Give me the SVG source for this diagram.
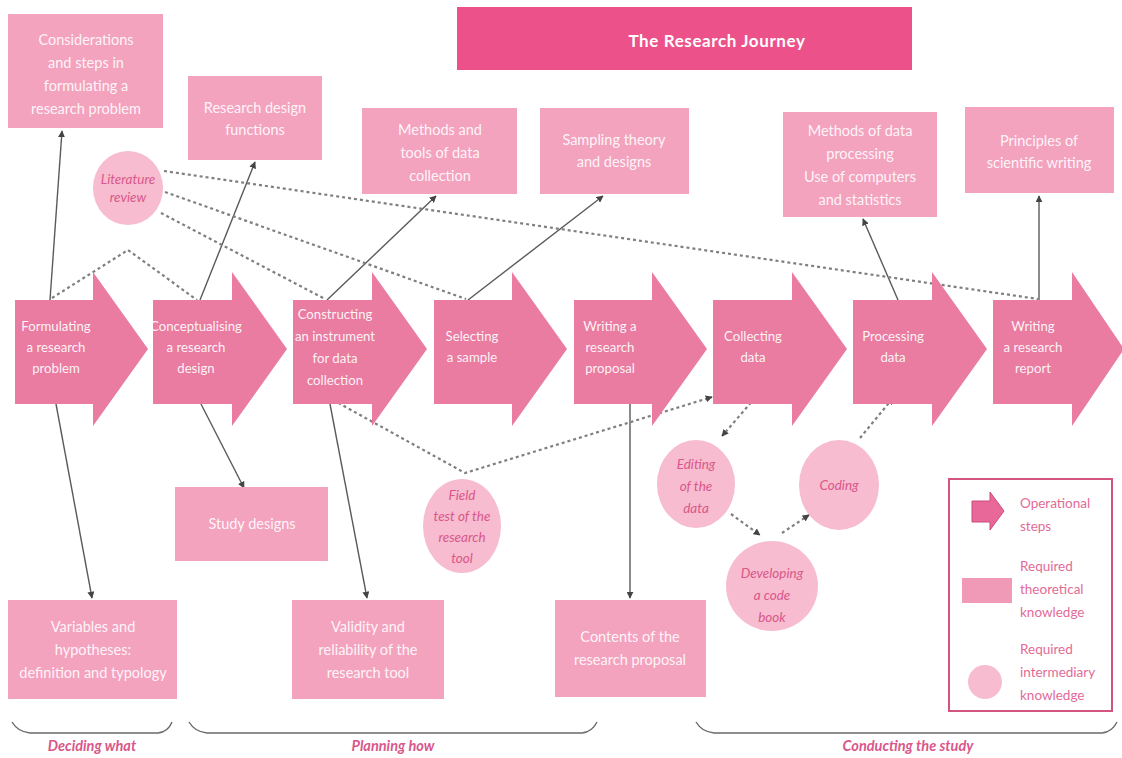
<svg xmlns="http://www.w3.org/2000/svg" width="1122" height="758" viewBox="0 0 1122 758">
<style>
.box{fill:#f4a3bf}
.arr{fill:#ea7ca2}
.circ{fill:#f7bccf}
.bt{font-family:Lato,"Open Sans",sans-serif;font-size:14.5px;fill:#ffffff;fill-opacity:0.9;text-anchor:middle}
.at{font-family:Lato,"Open Sans",sans-serif;font-size:13.2px;fill:#ffffff;fill-opacity:0.92;text-anchor:middle}
.ct{font-family:Lato,"Open Sans",sans-serif;font-size:13.5px;font-style:italic;fill:#d9578a;text-anchor:middle}
.lt{font-family:Lato,"Open Sans",sans-serif;font-size:13.5px;fill:#e26b98}
.ph{font-family:Lato,"Open Sans",sans-serif;font-size:14.5px;font-style:italic;font-weight:bold;fill:#d9578a;text-anchor:middle}
.solid{fill:none;stroke:#5a5a5a;stroke-width:1.4}
.dash{fill:none;stroke:#7f7f7f;stroke-width:2.2;stroke-dasharray:3 3}
.brace{fill:none;stroke:#6a6a6a;stroke-width:1.4}
</style>
<defs>
<marker id="ah" viewBox="0 0 10 10" refX="9" refY="5" markerWidth="7" markerHeight="7" orient="auto" markerUnits="userSpaceOnUse">
<path d="M0,0 L10,5 L0,10 z" fill="#444"/>
</marker>
</defs>

<rect width="1122" height="758" fill="#ffffff"/>

<g id="title">
<rect x="457" y="7" width="455" height="63" fill="#ec5189"/>
<text x="717" y="47" font-family="Lato,'Open Sans',sans-serif" font-size="17" font-weight="bold" fill="#ffffff" text-anchor="middle" letter-spacing="0.6">The Research Journey</text>
</g>

<g id="connectors">
<line class="solid" x1="50" y1="300" x2="62" y2="131" marker-end="url(#ah)"/>
<line class="solid" x1="56" y1="404" x2="92" y2="598" marker-end="url(#ah)"/>
<line class="solid" x1="200" y1="300" x2="255" y2="162" marker-end="url(#ah)"/>
<line class="solid" x1="201" y1="404" x2="244" y2="488" marker-end="url(#ah)"/>
<line class="solid" x1="327" y1="300" x2="436" y2="196" marker-end="url(#ah)"/>
<line class="solid" x1="330" y1="404" x2="367" y2="598" marker-end="url(#ah)"/>
<line class="solid" x1="468" y1="300" x2="603" y2="196" marker-end="url(#ah)"/>
<line class="solid" x1="630" y1="404" x2="630" y2="598" marker-end="url(#ah)"/>
<line class="solid" x1="898" y1="300" x2="863" y2="219" marker-end="url(#ah)"/>
<line class="solid" x1="1039" y1="300" x2="1039" y2="196" marker-end="url(#ah)"/>
<line class="dash" x1="164" y1="171" x2="1038" y2="299"/>
<line class="dash" x1="165" y1="192" x2="466" y2="299"/>
<line class="dash" x1="161" y1="213" x2="325" y2="299"/>
<polyline class="dash" points="52,298 128,250 197,300"/>
<polyline class="dash" points="333,400 465,473 712,397" marker-end="url(#ah)"/>
<line class="dash" x1="755" y1="398" x2="722" y2="436" marker-end="url(#ah)"/>
<line class="dash" x1="731" y1="514" x2="760" y2="535" marker-end="url(#ah)"/>
<line class="dash" x1="782" y1="533" x2="809" y2="515" marker-end="url(#ah)"/>
<line class="dash" x1="860" y1="438" x2="893" y2="398" marker-end="url(#ah)"/>
</g>

<g id="box-considerations">
<rect class="box" x="8" y="14" width="155" height="114"/>
<text class="bt" x="86" y="45">Considerations</text>
<text class="bt" x="86" y="68">and steps in</text>
<text class="bt" x="86" y="91">formulating a</text>
<text class="bt" x="86" y="114">research problem</text>
</g>
<g id="box-design-functions">
<rect class="box" x="188" y="76" width="134" height="84"/>
<text class="bt" x="255" y="113">Research design</text>
<text class="bt" x="255" y="135">functions</text>
</g>
<g id="box-methods-tools">
<rect class="box" x="362" y="108" width="155" height="86"/>
<text class="bt" x="440" y="135">Methods and</text>
<text class="bt" x="440" y="158">tools of data</text>
<text class="bt" x="440" y="181">collection</text>
</g>
<g id="box-sampling">
<rect class="box" x="540" y="108" width="149" height="86"/>
<text class="bt" x="614" y="145">Sampling theory</text>
<text class="bt" x="614" y="167">and designs</text>
</g>
<g id="box-processing-methods">
<rect class="box" x="783" y="112" width="154" height="105"/>
<text class="bt" x="860" y="136">Methods of data</text>
<text class="bt" x="860" y="159">processing</text>
<text class="bt" x="860" y="182">Use of computers</text>
<text class="bt" x="860" y="205">and statistics</text>
</g>
<g id="box-writing-principles">
<rect class="box" x="965" y="107" width="149" height="86"/>
<text class="bt" x="1039" y="146">Principles of</text>
<text class="bt" x="1039" y="168">scientific writing</text>
</g>

<g id="lit-review">
<ellipse class="circ" cx="128" cy="188" rx="35" ry="37"/>
<text class="ct" x="128" y="184">Literature</text>
<text class="ct" x="128" y="202">review</text>
</g>

<g id="step-formulating">
<polygon class="arr" points="15,300 93,300 93,272 148,349 93,426 93,404 15,404"/>
<text class="at" x="56" y="331">Formulating</text>
<text class="at" x="56" y="352">a research</text>
<text class="at" x="56" y="373">problem</text>
</g>
<g id="step-conceptualising">
<polygon class="arr" points="153,300 232,300 232,272 287,349 232,426 232,404 153,404"/>
<text class="at" x="196" y="331">Conceptualising</text>
<text class="at" x="196" y="352">a research</text>
<text class="at" x="196" y="373">design</text>
</g>
<g id="step-constructing">
<polygon class="arr" points="293,300 372,300 372,272 427,349 372,426 372,404 293,404"/>
<text class="at" x="335" y="319">Constructing</text>
<text class="at" x="335" y="341">an instrument</text>
<text class="at" x="335" y="363">for data</text>
<text class="at" x="335" y="385">collection</text>
</g>
<g id="step-selecting">
<polygon class="arr" points="434,300 512,300 512,272 567,349 512,426 512,404 434,404"/>
<text class="at" x="472" y="341">Selecting</text>
<text class="at" x="472" y="362">a sample</text>
</g>
<g id="step-proposal">
<polygon class="arr" points="574,300 652,300 652,272 707,349 652,426 652,404 574,404"/>
<text class="at" x="610" y="331">Writing a</text>
<text class="at" x="610" y="352">research</text>
<text class="at" x="610" y="373">proposal</text>
</g>
<g id="step-collecting">
<polygon class="arr" points="713,300 792,300 792,272 847,349 792,426 792,404 713,404"/>
<text class="at" x="753" y="341">Collecting</text>
<text class="at" x="753" y="362">data</text>
</g>
<g id="step-processing">
<polygon class="arr" points="853,300 932,300 932,272 987,349 932,426 932,404 853,404"/>
<text class="at" x="893" y="341">Processing</text>
<text class="at" x="893" y="362">data</text>
</g>
<g id="step-report">
<polygon class="arr" points="993,300 1072,300 1072,272 1124,349 1072,426 1072,404 993,404"/>
<text class="at" x="1033" y="331">Writing</text>
<text class="at" x="1033" y="352">a research</text>
<text class="at" x="1033" y="373">report</text>
</g>

<g id="field-test">
<ellipse class="circ" cx="462" cy="526" rx="39" ry="47"/>
<text class="ct" x="462" y="500">Field</text>
<text class="ct" x="462" y="521">test of the</text>
<text class="ct" x="462" y="542">research</text>
<text class="ct" x="462" y="563">tool</text>
</g>
<g id="editing">
<ellipse class="circ" cx="696" cy="484" rx="39" ry="44"/>
<text class="ct" x="696" y="469">Editing</text>
<text class="ct" x="696" y="491">of the</text>
<text class="ct" x="696" y="513">data</text>
</g>
<g id="coding">
<ellipse class="circ" cx="839" cy="485" rx="40" ry="45"/>
<text class="ct" x="839" y="490">Coding</text>
</g>
<g id="codebook">
<ellipse class="circ" cx="772" cy="586" rx="46" ry="45"/>
<text class="ct" x="772" y="578">Developing</text>
<text class="ct" x="772" y="600">a code</text>
<text class="ct" x="772" y="622">book</text>
</g>

<g id="box-study-designs">
<rect class="box" x="175" y="487" width="153" height="74"/>
<text class="bt" x="252" y="529">Study designs</text>
</g>
<g id="box-variables">
<rect class="box" x="8" y="600" width="169" height="99"/>
<text class="bt" x="93" y="632">Variables and</text>
<text class="bt" x="93" y="655">hypotheses:</text>
<text class="bt" x="93" y="678">definition and typology</text>
</g>
<g id="box-validity">
<rect class="box" x="292" y="600" width="152" height="99"/>
<text class="bt" x="368" y="632">Validity and</text>
<text class="bt" x="368" y="655">reliability of the</text>
<text class="bt" x="368" y="678">research tool</text>
</g>
<g id="box-contents">
<rect class="box" x="555" y="600" width="151" height="97"/>
<text class="bt" x="630" y="642">Contents of the</text>
<text class="bt" x="630" y="665">research proposal</text>
</g>

<g id="legend">
<rect x="949" y="479" width="163" height="232" fill="#ffffff" stroke="#d2547f" stroke-width="2"/>
<polygon points="972,501 990,501 990,492 1004,511 990,530 990,522 972,522" fill="#e8689a" stroke="#c94a7a" stroke-width="1"/>
<text class="lt" x="1020" y="508">Operational</text>
<text class="lt" x="1020" y="531">steps</text>
<rect x="962" y="578" width="50" height="25" fill="#f09ab8"/>
<text class="lt" x="1020" y="571">Required</text>
<text class="lt" x="1020" y="594">theoretical</text>
<text class="lt" x="1020" y="617">knowledge</text>
<circle cx="985" cy="682" r="17" fill="#f7bccf"/>
<text class="lt" x="1020" y="654">Required</text>
<text class="lt" x="1020" y="677">intermediary</text>
<text class="lt" x="1020" y="700">knowledge</text>
</g>

<g id="phases">
<path class="brace" d="M12,722 Q18,732 30,733 L158,733 Q168,732 172,722"/>
<path class="brace" d="M189,722 Q195,732 207,733 L582,733 Q592,732 597,722"/>
<path class="brace" d="M696,722 Q702,732 714,733 L1102,733 Q1112,732 1117,722"/>
<text class="ph" x="92" y="751">Deciding what</text>
<text class="ph" x="393" y="751">Planning how</text>
<text class="ph" x="908" y="751">Conducting the study</text>
</g>
</svg>
